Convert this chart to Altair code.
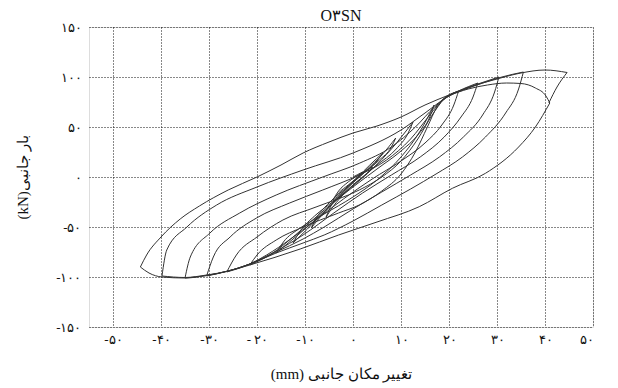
import altair as alt
import pandas as pd

# ---- data: hysteresis branches (x = mm, y = kN) ----
U0 = [(0, 0), (1, 2.5), (2, 5)]
L1 = [(2, 5), (1, 0), (-1, -8), (-3, -16), (-4.2, -23)]
U1 = [(-4.2, -23), (-3, -14), (-1, -5), (1.5, 3), (4.1, 10)]
L2 = [(4.1, 10), (3, 4), (0.5, -6), (-2.5, -20), (-4.5, -32), (-5.6, -40)]
U2 = [(-5.6, -40), (-4.5, -28), (-2, -14), (1, 0), (3.5, 12), (6.2, 24)]
L3 = [(6.2, 24), (5, 16), (2.5, 5), (-1, -10), (-4.5, -28), (-7, -41), (-8.7, -51)]
U3 = [(-8.7, -51), (-7.5, -40), (-5, -26), (-1, -9), (3, 8), (6, 22), (8.9, 39)]
L4 = [(8.9, 39), (8, 30), (5.5, 17), (2, 3), (-2, -15), (-6, -35), (-9.5, -52), (-12.5, -66)]
U4 = [(-12.5, -66), (-11, -54), (-8, -39), (-4, -24), (0, -9), (4, 8), (8, 28), (12.5, 55)]
L5 = [(12.5, 55), (11.5, 44), (9, 28), (5, 12), (0, -8), (-5, -30), (-10, -52), (-13.5, -66), (-16, -76)]
U5 = [(-16, -76), (-14.5, -65), (-11, -51), (-6, -37), (0, -20), (5, -3), (10, 20), (14, 46), (16.9, 72)]
L6 = [(16.9, 72), (16, 60), (13.5, 42), (10, 26), (5, 8), (0, -10), (-6, -33), (-12, -58), (-17, -77), (-21.5, -88)]
U6 = [(-21.5, -88), (-20, -78), (-16, -63), (-10.4, -50), (-3, -36), (1.3, -28), (6, -14), (10, 3),
      (13, 25), (15.5, 50), (17.5, 70), (19.5, 80), (22, 86)]
L7 = [(22, 86), (21, 72), (18.5, 52), (15, 34), (10, 16), (4, -2), (-2, -22), (-8, -44), (-13, -62),
      (-18, -78), (-21.5, -87), (-26.3, -95)]
U7 = [(-26.3, -95), (-24.3, -78), (-20, -60), (-14.6, -43), (-7.7, -30), (1.3, -13), (6, 0), (10, 16),
      (13.5, 38), (16.5, 62), (19, 78), (22, 86), (26, 94)]
L8 = [(26, 94), (25, 80), (22.5, 60), (19, 40), (14, 20), (8, 2), (2, -16), (-4, -36), (-10.4, -58),
      (-16, -74), (-21.5, -87), (-26, -94), (-30.5, -99)]
U8 = [(-30.5, -99), (-29.1, -80), (-25.6, -60), (-20.1, -41), (-13.2, -26), (-6.3, -13), (1.3, 2), (7, 17),
      (12, 38), (16, 62), (19, 79), (22, 86), (26, 93), (30.4, 100)]
L9 = [(30.4, 100), (29.5, 85), (27, 62), (23, 40), (18, 20), (12, 2), (6, -15), (0, -32), (-6, -50),
      (-10.4, -62), (-16, -75), (-21.5, -87), (-26, -94), (-30.5, -98.5), (-35, -101)]
U9 = [(-35, -101), (-33.9, -80), (-29.8, -56), (-23.6, -36), (-16, -18), (-6.3, 0), (1.3, 13.7), (8, 30),
      (13, 50), (17, 70), (20, 81), (23, 87), (27, 94), (31, 100), (35.5, 105)]
L10 = [(35.5, 105), (34.5, 88), (31.8, 64), (27.6, 40), (22.8, 20), (17.3, 3), (12, -12), (6, -28), (0, -44),
       (-6, -58), (-10.4, -66), (-16, -76), (-21.5, -87), (-26, -94), (-30.5, -98), (-35, -100.5), (-39.8, -99)]
U10 = [(-39.8, -99), (-38.8, -73), (-34.6, -50), (-28.4, -28), (-20, -10), (-10.4, 7), (0, 24), (10, 47),
       (15, 64), (20, 81), (24, 88), (28, 92), (32, 94), (35, 93.5), (38, 89), (40.2, 81), (41, 74)]
L11 = [(41, 74), (38, 50), (34.5, 30), (27.6, 3.7), (20.7, -11.3), (13.8, -29.7), (5, -45), (-3, -58),
       (-11, -72), (-21.5, -88), (-26, -94), (-30.5, -98.5), (-35, -101), (-39.8, -100), (-42.5, -96), (-44.3, -90)]
U11 = [(-44.3, -90), (-43, -78), (-40, -60), (-36, -42), (-32, -29), (-26, -13), (-20, 0), (-15, 12),
       (-10.4, 24), (-5, 35), (0, 44), (5, 51), (10, 60), (15, 72), (20, 82), (25, 91), (30, 98), (35, 104),
       (40, 107), (44.6, 104.5)]
L12 = [(44.6, 104.5), (42.5, 90), (40.8, 74)]

branches = {
    "U0": U0, "L1": L1, "U1": U1, "L2": L2, "U2": U2, "L3": L3, "U3": U3, "L4": L4, "U4": U4,
    "L5": L5, "U5": U5, "L6": L6, "U6": U6, "L7": L7, "U7": U7, "L8": L8, "U8": U8, "L9": L9,
    "U9": U9, "L10": L10, "U10": U10, "L11": L11, "U11": U11, "L12": L12,
}

x_ticks = [-50, -40, -30, -20, -10, 0, 10, 20, 30, 40, 50]
x_tick_labels = ["-۵۰", "-۴۰", "-۳۰", "- ۲۰", "-۱۰", "۰", "۱۰", "۲۰", "۳۰", "۴۰", "۵۰"]
y_ticks = [-150, -100, -50, 0, 50, 100, 150]
y_tick_labels = ["-۱۵۰", "-۱۰۰", "-۵۰", "۰", "۵۰", "۱۰۰", "۱۵۰"]

title_text = "O۳SN"
x_title = "(mm) تغییر مکان جانبی"
y_title = "(kN)بار جانبی"

rows = []
for name, pts in branches.items():
    for i, (x, y) in enumerate(pts):
        rows.append({"branch": name, "i": i, "x": x, "y": y})
df = pd.DataFrame(rows)


def label_expr(values, labels):
    expr = "''"
    for v, l in reversed(list(zip(values, labels))):
        expr = f"datum.value == {v} ? '{l}' : ({expr})"
    return expr


FONT = "Liberation Serif"
GRID = dict(grid=True, gridColor="#111", gridDash=[1, 2], gridWidth=1, gridOpacity=1)

chart = (
    alt.Chart(df)
    .mark_line(interpolate="monotone", color="#333", strokeWidth=1.0)
    .encode(
        x=alt.X(
            "x:Q",
            scale=alt.Scale(domain=[-55, 50], nice=False, zero=False),
            axis=alt.Axis(
                values=x_ticks,
                labelExpr=label_expr(x_ticks, x_tick_labels),
                title=x_title,
                ticks=False,
                domain=False,
                labelPadding=6,
                labelFontSize=13,
                labelFont=FONT,
                labelColor="#111",
                titleFont=FONT,
                titleFontSize=15,
                titleFontWeight="normal",
                titleColor="#111",
                titleY=46,
                titleBaseline="middle",
                **GRID,
            ),
        ),
        y=alt.Y(
            "y:Q",
            scale=alt.Scale(domain=[-150, 150], nice=False, zero=False),
            axis=alt.Axis(
                values=y_ticks,
                labelExpr=label_expr(y_ticks, y_tick_labels),
                title=y_title,
                ticks=False,
                domain=False,
                labelPadding=8,
                labelFontSize=13,
                labelFont=FONT,
                labelColor="#111",
                titleFont=FONT,
                titleFontSize=15,
                titleFontWeight="normal",
                titleColor="#111",
                titleAngle=270,
                titleX=-67,
                titleY=150,
                titleAlign="center",
                titleBaseline="middle",
                **GRID,
            ),
        ),
        detail="branch:N",
        order="i:Q",
    )
    .properties(
        width=504,
        height=300,
        title=alt.TitleParams(
            text=title_text, font=FONT, fontSize=16, fontWeight="normal",
            color="#111", anchor="middle", offset=6, dy=9,
        ),
        autosize=alt.AutoSizeParams(type="none"),
        padding={"left": 89, "top": 27, "right": 25, "bottom": 61},
    )
    .configure_view(stroke="#555", strokeWidth=1.6)
    .configure(background="white")
)

chart.save("out.html", embed_options={"renderer": "svg", "actions": False})
